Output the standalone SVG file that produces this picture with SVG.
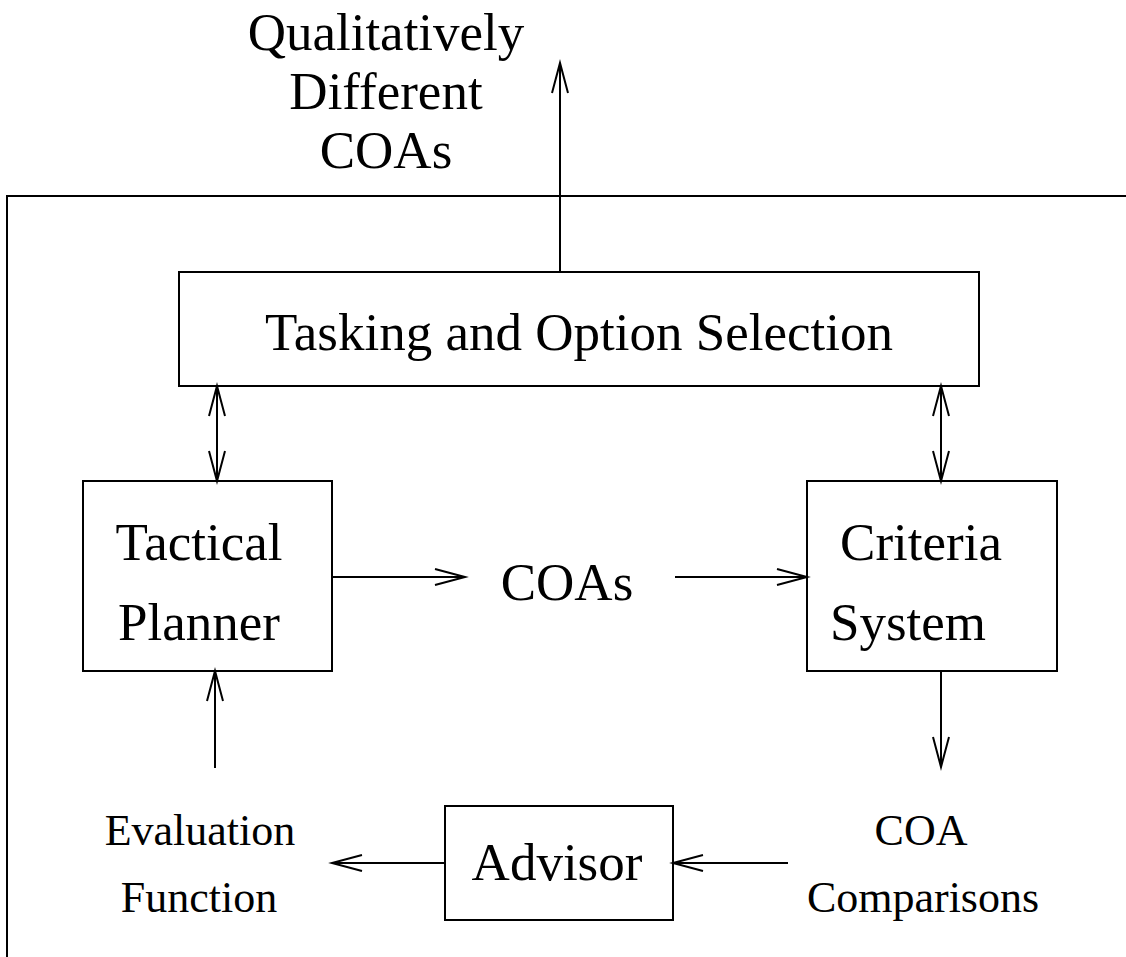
<svg xmlns="http://www.w3.org/2000/svg" width="1126" height="957" viewBox="0 0 1126 957">
<style>
.box{fill:none;stroke:#000;stroke-width:2}
.ln{fill:none;stroke:#000;stroke-width:2}
.ah{fill:none;stroke:#000;stroke-width:2}
.t{font-family:"Liberation Serif","Times New Roman",serif;fill:#000;text-anchor:middle}
.big{font-size:53px}
.sm{font-size:44px}
</style>
<rect width="1126" height="957" fill="#fff"/>
<g id="frame">
<polyline class="ln" points="1126,196 7,196 7,957"/>
</g>
<g id="output-label">
<text class="t big" x="386" y="50">Qualitatively</text>
<text class="t big" x="386" y="109">Different</text>
<text class="t big" x="386" y="168">COAs</text>
</g>
<g id="tasking">
<rect class="box" x="179" y="272" width="800" height="114"/>
<text class="t big" x="579" y="350">Tasking and Option Selection</text>
</g>
<g id="tactical-planner">
<rect class="box" x="83" y="481" width="249" height="190"/>
<text class="t big" x="199" y="560">Tactical</text>
<text class="t big" x="199" y="640">Planner</text>
</g>
<g id="coas">
<text class="t big" x="567" y="600">COAs</text>
</g>
<g id="criteria-system">
<rect class="box" x="807" y="481" width="250" height="190"/>
<text class="t big" x="921" y="560">Criteria</text>
<text class="t big" x="908" y="640">System</text>
</g>
<g id="advisor">
<rect class="box" x="445" y="806" width="228" height="114"/>
<text class="t big" x="557" y="880">Advisor</text>
</g>
<g id="evaluation-function">
<text class="t sm" x="200" y="845">Evaluation</text>
<text class="t sm" x="199" y="912">Function</text>
</g>
<g id="coa-comparisons">
<text class="t sm" x="921" y="845">COA</text>
<text class="t sm" x="923" y="912">Comparisons</text>
</g>
<g id="connectors">
<line class="ln" x1="560" y1="272" x2="560" y2="63"/>
<polyline class="ah" points="552,93 560,63 568,93"/>
<line class="ln" x1="217" y1="386" x2="217" y2="481"/>
<polyline class="ah" points="209,416 217,386 225,416"/>
<polyline class="ah" points="209,451 217,481 225,451"/>
<line class="ln" x1="941" y1="386" x2="941" y2="481"/>
<polyline class="ah" points="933,416 941,386 949,416"/>
<polyline class="ah" points="933,451 941,481 949,451"/>
<line class="ln" x1="332" y1="577" x2="465" y2="577"/>
<polyline class="ah" points="435,569 465,577 435,585"/>
<line class="ln" x1="675" y1="577" x2="807" y2="577"/>
<polyline class="ah" points="777,569 807,577 777,585"/>
<line class="ln" x1="941" y1="671" x2="941" y2="767"/>
<polyline class="ah" points="933,737 941,767 949,737"/>
<line class="ln" x1="788" y1="863" x2="673" y2="863"/>
<polyline class="ah" points="703,855 673,863 703,871"/>
<line class="ln" x1="445" y1="863" x2="332" y2="863"/>
<polyline class="ah" points="362,855 332,863 362,871"/>
<line class="ln" x1="215" y1="768" x2="215" y2="671"/>
<polyline class="ah" points="207,701 215,671 223,701"/>
</g>
</svg>
